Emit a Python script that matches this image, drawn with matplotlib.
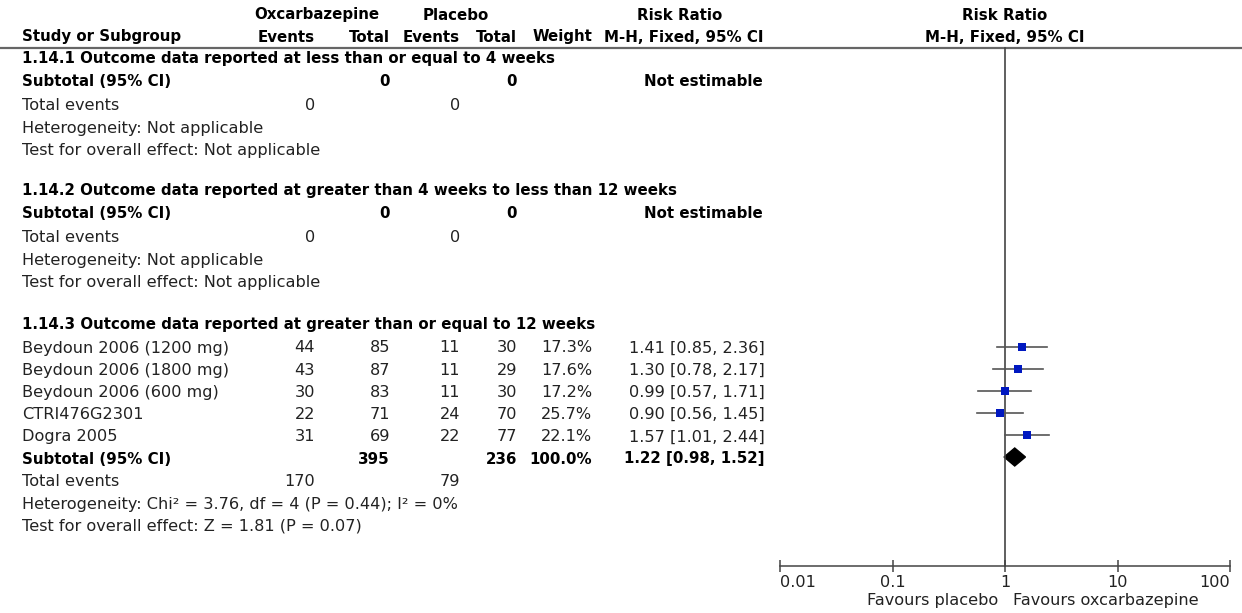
import numpy as np
import matplotlib.pyplot as plt
from matplotlib.patches import Polygon

plt.rcParams['font.family'] = ['DejaVu Sans']

# data
studies = ["Beydoun 2006 (1200 mg)", "Beydoun 2006 (1800 mg)", "Beydoun 2006 (600 mg)",
           "CTRI476G2301", "Dogra 2005"]
ox_events = [44, 43, 30, 22, 31]
ox_total = [85, 87, 83, 71, 69]
pl_events = [11, 11, 11, 24, 22]
pl_total = [30, 29, 30, 70, 77]
weights = [17.3, 17.6, 17.2, 25.7, 22.1]
rr = [1.41, 1.30, 0.99, 0.90, 1.57]
rr_lo = [0.85, 0.78, 0.57, 0.56, 1.01]
rr_hi = [2.36, 2.17, 1.71, 1.45, 2.44]
sub_rr, sub_lo, sub_hi = 1.22, 0.98, 1.52
sub_ox_total, sub_pl_total = 395, 236
sub_ox_events, sub_pl_events = 170, 79
ticks = [0.01, 0.1, 1, 10, 100]
tick_labels = ["0.01", "0.1", "1", "10", "100"]

W, H = 1242, 613
fig = plt.figure(figsize=(W / 100, H / 100), dpi=100)
ax = fig.add_axes([0, 0, 1, 1])
ax.set_xlim(0, W)
ax.set_ylim(H, 0)
ax.axis('off')

FS = 11.6   # regular text
FSB = 10.8  # bold text (DejaVu bold runs wider)
TXT = '#222222'
# column right edges (pixels)
X_NAME, X_OXE, X_OXT, X_PLE, X_PLT, X_W, X_RR = 22, 315, 390, 460, 517, 592, 765


def t(x, y, s, ha='left', bold=False):
    ax.text(x, y, s, ha=ha, va='center', fontsize=FSB if bold else FS,
            fontweight='bold' if bold else 'normal',
            color='black' if bold else TXT)


# header
t(317, 15, "Oxcarbazepine", 'center', True)
t(456, 15, "Placebo", 'center', True)
t(680, 15, "Risk Ratio", 'center', True)
t(1005, 15, "Risk Ratio", 'center', True)
t(X_NAME, 37, "Study or Subgroup", bold=True)
t(X_OXE, 37, "Events", 'right', True)
t(X_OXT, 37, "Total", 'right', True)
t(X_PLE, 37, "Events", 'right', True)
t(X_PLT, 37, "Total", 'right', True)
t(X_W, 37, "Weight", 'right', True)
t(763, 37, "M-H, Fixed, 95% CI", 'right', True)
t(1005, 37, "M-H, Fixed, 95% CI", 'center', True)
ax.plot([0, W], [47.5, 47.5], color='#666666', lw=1.6)

# empty subgroups
for y0, title in [(59, "1.14.1 Outcome data reported at less than or equal to 4 weeks"),
                  (191, "1.14.2 Outcome data reported at greater than 4 weeks to less than 12 weeks")]:
    t(X_NAME, y0, title, bold=True)
    t(X_NAME, y0 + 22, "Subtotal (95% CI)", bold=True)
    t(X_OXT, y0 + 22, "0", 'right', True)
    t(X_PLT, y0 + 22, "0", 'right', True)
    t(763, y0 + 22, "Not estimable", 'right', True)
    t(X_NAME, y0 + 47, "Total events")
    t(X_OXE, y0 + 47, "0", 'right')
    t(X_PLE, y0 + 47, "0", 'right')
    t(X_NAME, y0 + 69, "Heterogeneity: Not applicable")
    t(X_NAME, y0 + 91, "Test for overall effect: Not applicable")

# subgroup 3
t(X_NAME, 325, "1.14.3 Outcome data reported at greater than or equal to 12 weeks", bold=True)
rows_y = 348 + 22.2 * np.arange(len(studies))
for i, y in enumerate(rows_y):
    t(X_NAME, y, studies[i])
    t(X_OXE, y, str(ox_events[i]), 'right')
    t(X_OXT, y, str(ox_total[i]), 'right')
    t(X_PLE, y, str(pl_events[i]), 'right')
    t(X_PLT, y, str(pl_total[i]), 'right')
    t(X_W, y, f"{weights[i]:.1f}%", 'right')
    t(X_RR, y, f"{rr[i]:.2f} [{rr_lo[i]:.2f}, {rr_hi[i]:.2f}]", 'right')
ys = 459
t(X_NAME, ys, "Subtotal (95% CI)", bold=True)
t(X_OXT, ys, str(sub_ox_total), 'right', True)
t(X_PLT, ys, str(sub_pl_total), 'right', True)
t(X_W, ys, "100.0%", 'right', True)
t(X_RR, ys, f"{sub_rr:.2f} [{sub_lo:.2f}, {sub_hi:.2f}]", 'right', True)
t(X_NAME, 482, "Total events")
t(X_OXE, 482, str(sub_ox_events), 'right')
t(X_PLE, 482, str(sub_pl_events), 'right')
t(X_NAME, 504, "Heterogeneity: Chi\u00b2 = 3.76, df = 4 (P = 0.44); I\u00b2 = 0%")
t(X_NAME, 526, "Test for overall effect: Z = 1.81 (P = 0.07)")

t(998, 601, "Favours placebo", 'right')
t(1013, 601, "Favours oxcarbazepine", 'left')

# forest panel
fax = fig.add_axes([780 / W, 0, 450 / W, 1])
fax.set_xscale('log')
fax.set_xlim(0.01, 100)
fax.set_ylim(H, 0)
fax.patch.set_visible(False)
for s in ['left', 'right', 'top']:
    fax.spines[s].set_visible(False)
fax.spines['bottom'].set_position(('data', 566))
fax.spines['bottom'].set_color('#444444')
fax.spines['bottom'].set_linewidth(1.1)
fax.set_yticks([])
fax.set_xticks(ticks)
fax.set_xticklabels(tick_labels)
fax.minorticks_off()
fax.tick_params(axis='x', direction='inout', length=9, width=1.1, color='#444444',
                labelsize=FS, labelcolor=TXT, pad=2)
labs = fax.get_xticklabels()
labs[0].set_horizontalalignment('left')
labs[-1].set_horizontalalignment('right')

fax.plot([1, 1], [48, 566], color='#444444', lw=1.2)
for i, y in enumerate(rows_y):
    yy = y - 1.5
    fax.plot([rr_lo[i], rr_hi[i]], [yy, yy], color='#555555', lw=1.2)
    fax.plot(rr[i], yy, 's', color='#0018c0', ms=1.75 * np.sqrt(weights[i]) * 0.72, mew=0)
yd = ys - 2
fax.add_patch(Polygon([(sub_lo, yd), (sub_rr, yd - 9), (sub_hi, yd), (sub_rr, yd + 9)],
                      closed=True, color='black'))

fig.savefig('out.png', dpi=100)
